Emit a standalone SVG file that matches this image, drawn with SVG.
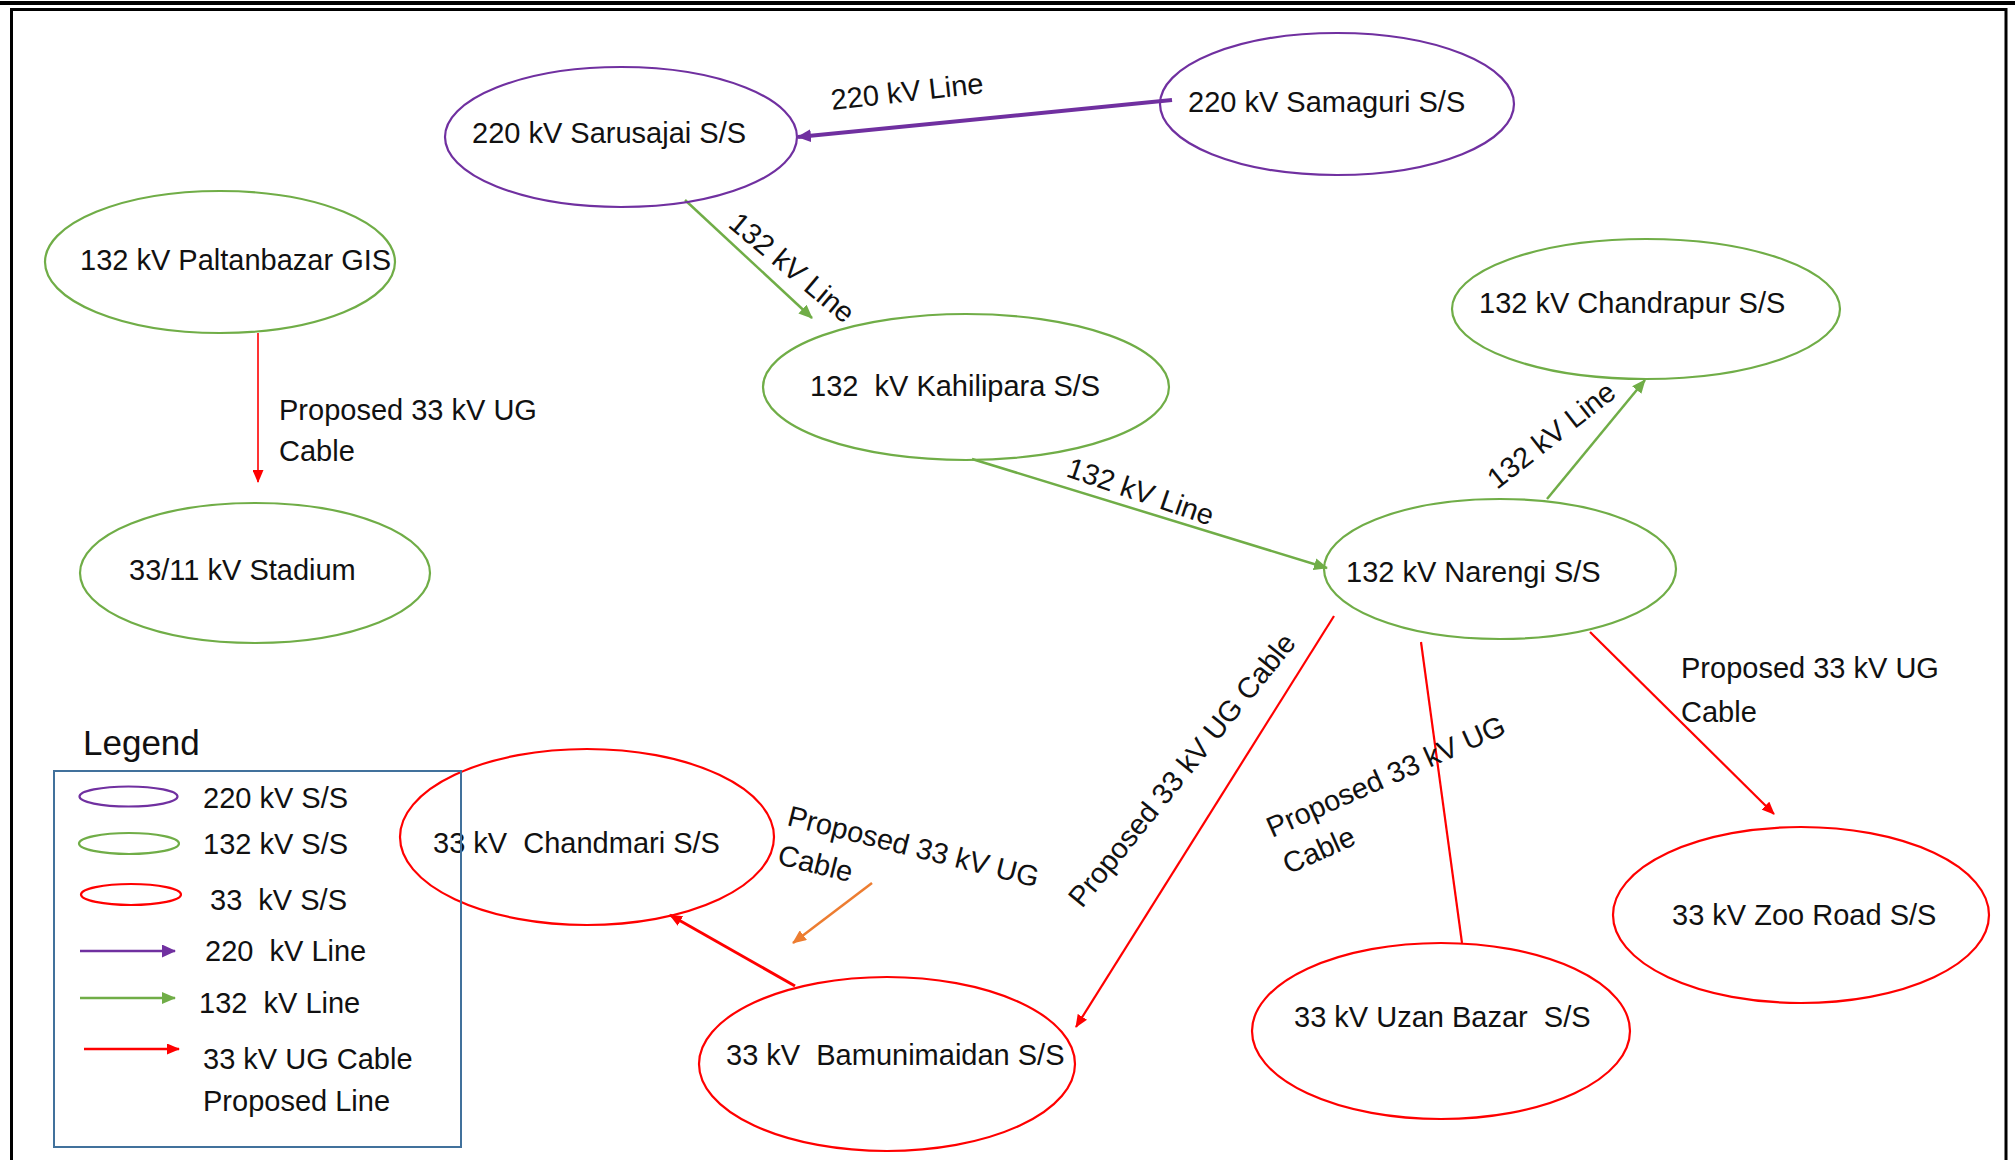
<svg xmlns="http://www.w3.org/2000/svg" width="2015" height="1160" viewBox="0 0 2015 1160">
<style>
text{font-family:"Liberation Sans",Arial,sans-serif;font-size:29px;fill:#111;white-space:pre}
.n{fill:none;stroke-width:2.2}
.p{stroke:#7030A0}.g{stroke:#70AD47}.r{stroke:#FF0000}
.c{fill:none;stroke-linecap:butt}
</style>
<defs>
<marker id="mp" markerWidth="14" markerHeight="13" refX="13" refY="6.5" orient="auto" markerUnits="userSpaceOnUse"><path d="M0,0 L14,6.5 L0,13 z" fill="#7030A0"/></marker>
<marker id="mg" markerWidth="14" markerHeight="12" refX="13" refY="6" orient="auto" markerUnits="userSpaceOnUse"><path d="M0,0 L14,6 L0,12 z" fill="#70AD47"/></marker>
<marker id="mr" markerWidth="13" markerHeight="11" refX="12" refY="5.5" orient="auto" markerUnits="userSpaceOnUse"><path d="M0,0 L13,5.5 L0,11 z" fill="#FF0000"/></marker>
<marker id="mo" markerWidth="14" markerHeight="12" refX="13" refY="6" orient="auto" markerUnits="userSpaceOnUse"><path d="M0,0 L14,6 L0,12 z" fill="#ED7D31"/></marker>
</defs>
<rect width="2015" height="1160" fill="#fff"/>
<g id="frame">
<rect x="0" y="1" width="2015" height="4" fill="#000"/>
<path d="M11.5,1160 V9.5 H2006 V1160" fill="none" stroke="#000" stroke-width="3"/>
</g>
<g id="connectors">
<line class="c" x1="1172" y1="100" x2="798" y2="137" stroke="#7030A0" stroke-width="4" marker-end="url(#mp)"/>
<line class="c" x1="685" y1="200" x2="812" y2="318" stroke="#70AD47" stroke-width="2.5" marker-end="url(#mg)"/>
<line class="c" x1="972" y1="459" x2="1327" y2="568" stroke="#70AD47" stroke-width="2.5" marker-end="url(#mg)"/>
<line class="c" x1="1547" y1="499" x2="1645" y2="380" stroke="#70AD47" stroke-width="2.5" marker-end="url(#mg)"/>
<line class="c" x1="258" y1="333" x2="258" y2="482" stroke="#FF0000" stroke-width="1.6" marker-end="url(#mr)"/>
<line class="c" x1="1590" y1="632" x2="1774" y2="814" stroke="#FF0000" stroke-width="2.2" marker-end="url(#mr)"/>
<line class="c" x1="1334" y1="616" x2="1076" y2="1027" stroke="#FF0000" stroke-width="2.2" marker-end="url(#mr)"/>
<line class="c" x1="1421" y1="642" x2="1462" y2="943" stroke="#FF0000" stroke-width="2.2"/>
<line class="c" x1="795" y1="986" x2="670" y2="915" stroke="#FF0000" stroke-width="3" marker-end="url(#mr)"/>
<line class="c" x1="872" y1="883" x2="793" y2="943" stroke="#ED7D31" stroke-width="2.5" marker-end="url(#mo)"/>
<text x="832" y="110" transform="rotate(-6.4 832 110)">220 kV Line</text>
<text x="727" y="226" transform="rotate(40 727 226)">132 kV Line</text>
<text x="1065" y="476" transform="rotate(19 1065 476)">132 kV Line</text>
<text x="1497" y="490" transform="rotate(-38 1497 490)">132 kV Line</text>
<text x="279" y="420">Proposed 33 kV UG<tspan x="279" y="461">Cable</tspan></text>
<text x="1681" y="678">Proposed 33 kV UG<tspan x="1681" y="722">Cable</tspan></text>
<text x="1082" y="909" transform="rotate(-51 1082 909)">Proposed 33 kV UG Cable</text>
<text x="1272" y="838" transform="rotate(-24 1272 838)">Proposed 33 kV UG<tspan x="1272" y="878">Cable</tspan></text>
<text x="786" y="825" transform="rotate(14 786 825)">Proposed 33 kV UG<tspan x="786" y="865">Cable</tspan></text>
</g>
<g id="n-sarusajai"><ellipse class="n p" cx="621" cy="137" rx="176" ry="70"/><text x="472" y="143">220 kV Sarusajai S/S</text></g>
<g id="n-samaguri"><ellipse class="n p" cx="1337" cy="104" rx="177" ry="71"/><text x="1188" y="112">220 kV Samaguri S/S</text></g>
<g id="n-paltanbazar"><ellipse class="n g" cx="220" cy="262" rx="175" ry="71"/><text x="80" y="270">132 kV Paltanbazar GIS</text></g>
<g id="n-kahilipara"><ellipse class="n g" cx="966" cy="387" rx="203" ry="73"/><text x="810" y="396" xml:space="preserve">132  kV Kahilipara S/S</text></g>
<g id="n-chandrapur"><ellipse class="n g" cx="1646" cy="309" rx="194" ry="70"/><text x="1479" y="313">132 kV Chandrapur S/S</text></g>
<g id="n-narengi"><ellipse class="n g" cx="1500" cy="569" rx="176" ry="70"/><text x="1346" y="582">132 kV Narengi S/S</text></g>
<g id="n-stadium"><ellipse class="n g" cx="255" cy="573" rx="175" ry="70"/><text x="129" y="580">33/11 kV Stadium</text></g>
<g id="n-chandmari"><ellipse class="n r" cx="587" cy="837" rx="187" ry="88"/><text x="433" y="853" xml:space="preserve">33 kV  Chandmari S/S</text></g>
<g id="n-bamunimaidan"><ellipse class="n r" cx="887" cy="1064" rx="188" ry="87"/><text x="726" y="1065" xml:space="preserve">33 kV  Bamunimaidan S/S</text></g>
<g id="n-uzanbazar"><ellipse class="n r" cx="1441" cy="1031" rx="189" ry="88"/><text x="1294" y="1027" xml:space="preserve">33 kV Uzan Bazar  S/S</text></g>
<g id="n-zooroad"><ellipse class="n r" cx="1801" cy="915" rx="188" ry="88"/><text x="1672" y="925">33 kV Zoo Road S/S</text></g>
<g id="legend">
<text x="83" y="755" style="font-size:35px">Legend</text>
<rect x="54" y="771" width="407" height="376" fill="none" stroke="#41719C" stroke-width="2"/>
<ellipse class="n p" cx="128.5" cy="796.5" rx="49" ry="10"/>
<text x="203" y="808">220 kV S/S</text>
<ellipse class="n g" cx="129" cy="843.5" rx="50" ry="10.5"/>
<text x="203" y="854">132 kV S/S</text>
<ellipse class="n r" cx="131" cy="894.5" rx="50" ry="10.5"/>
<text x="210" y="910" xml:space="preserve">33  kV S/S</text>
<line x1="80" y1="951" x2="175" y2="951" stroke="#7030A0" stroke-width="2.5" marker-end="url(#mp)"/>
<text x="205" y="961" xml:space="preserve">220  kV Line</text>
<line x1="80" y1="998" x2="175" y2="998" stroke="#70AD47" stroke-width="2.5" marker-end="url(#mg)"/>
<text x="199" y="1013" xml:space="preserve">132  kV Line</text>
<line x1="84" y1="1049" x2="179" y2="1049" stroke="#FF0000" stroke-width="2.5" marker-end="url(#mr)"/>
<text x="203" y="1069">33 kV UG Cable<tspan x="203" y="1111">Proposed Line</tspan></text>
</g>
</svg>
